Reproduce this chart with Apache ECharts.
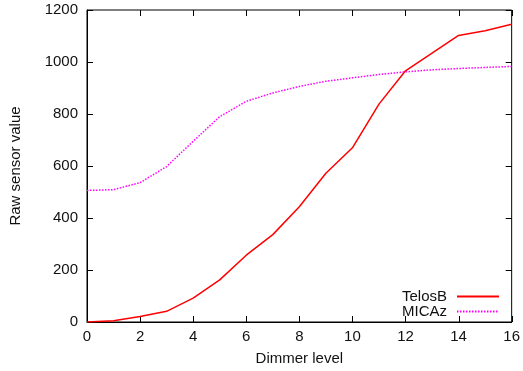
<!DOCTYPE html>
<html>
<head>
<meta charset="utf-8">
<script src="https://cdn.jsdelivr.net/npm/echarts@6/dist/echarts.min.js"></script>
<style>
  html, body { margin: 0; padding: 0; background: #fff; }
  #chart { width: 523px; height: 371px; }
</style>
</head>
<body>
<div id="chart"></div>
<script>
var levels = [0, 1, 2, 3, 4, 5, 6, 7, 8, 9, 10, 11, 12, 13, 14, 15, 16];
var telosB = [0, 5, 21, 41, 92, 162, 257, 336, 443, 572, 670, 838, 966, 1034, 1102, 1120, 1145];
var micaz = [506, 509, 536, 598, 695, 790, 849, 881, 906, 926, 939, 952, 962, 970, 975, 979, 983];
var xTicks = [0, 2, 4, 6, 8, 10, 12, 14, 16];
var yTicks = [0, 200, 400, 600, 800, 1000, 1200];

var chart = echarts.init(document.getElementById('chart'));

function pairs(ys) {
    var out = [];
    for (var i = 0; i < levels.length; i++) {
        out.push([levels[i], ys[i]]);
    }
    return out;
}

// tick marks, gnuplot style (inside, on all four sides)
var tickData = [];
for (var i = 0; i < xTicks.length; i++) tickData.push([xTicks[i], 0, 0]);
for (var j = 0; j < yTicks.length; j++) tickData.push([0, yTicks[j], 1]);

function renderTick(params, api) {
    var cs = params.coordSys;
    var len = 6;
    var style = { stroke: '#000', lineWidth: 1 };
    var lines;
    if (api.value(2) === 0) {
        var px = Math.round(api.coord([api.value(0), 0])[0]) + 0.5;
        lines = [
            [px, cs.y + cs.height, px, cs.y + cs.height - len],
            [px, cs.y, px, cs.y + len]
        ];
    } else {
        var py = Math.round(api.coord([0, api.value(1)])[1]) + 0.5;
        lines = [
            [cs.x, py, cs.x + len, py],
            [cs.x + cs.width, py, cs.x + cs.width - len, py]
        ];
    }
    return {
        type: 'group',
        children: lines.map(function (l) {
            return { type: 'line', shape: { x1: l[0], y1: l[1], x2: l[2], y2: l[3] }, style: style };
        })
    };
}

var font = 'Liberation Sans, Arial, sans-serif';

option = {
    animation: false,
    textStyle: { fontFamily: font },
    grid: { left: 86, right: 10, top: 10, bottom: 48, show: true, borderColor: '#000', borderWidth: 1 },
    xAxis: {
        type: 'value', min: 0, max: 16, interval: 2,
        name: 'Dimmer level', nameLocation: 'middle', nameGap: 29,
        nameTextStyle: { color: '#111', fontSize: 15, fontFamily: font },
        axisLine: { show: true, onZero: false, lineStyle: { color: '#000', width: 1 } },
        axisTick: { show: false },
        axisLabel: { color: '#111', fontSize: 15, margin: 7, fontFamily: font },
        splitLine: { show: false }
    },
    yAxis: {
        type: 'value', min: 0, max: 1200, interval: 200,
        name: 'Raw sensor value', nameLocation: 'middle', nameGap: 64,
        nameTextStyle: { color: '#111', fontSize: 15, fontFamily: font },
        axisLine: { show: true, onZero: false, lineStyle: { color: '#000', width: 1 } },
        axisTick: { show: false },
        axisLabel: {
            color: '#111', fontSize: 15, margin: 9, fontFamily: font,
            formatter: function (v) { return String(v); }
        },
        splitLine: { show: false }
    },
    legend: {
        orient: 'vertical', align: 'right',
        right: 23, bottom: 52, padding: 0,
        itemWidth: 42, itemHeight: 10, itemGap: 0,
        itemStyle: { opacity: 0 },
        textStyle: { color: '#111', fontSize: 15, lineHeight: 15, fontFamily: font, padding: [0, 5, 0, 0] },
        data: ['TelosB', 'MICAz']
    },
    series: [
        {
            name: 'TelosB', type: 'line', symbol: 'none',
            data: pairs(telosB),
            itemStyle: { color: '#ff0000' },
            lineStyle: { color: '#ff0000', width: 1.5 }
        },
        {
            name: 'MICAz', type: 'line', symbol: 'none',
            data: pairs(micaz),
            itemStyle: { color: '#ff00ff' },
            lineStyle: { color: '#ff00ff', width: 1.5, type: [1.5, 1.5] }
        },
        {
            name: 'ticks', type: 'custom', silent: true, clip: false, z: 1,
            encode: { x: 0, y: 1 },
            data: tickData,
            renderItem: renderTick
        }
    ]
};
chart.setOption(option);
</script>
</body>
</html>
